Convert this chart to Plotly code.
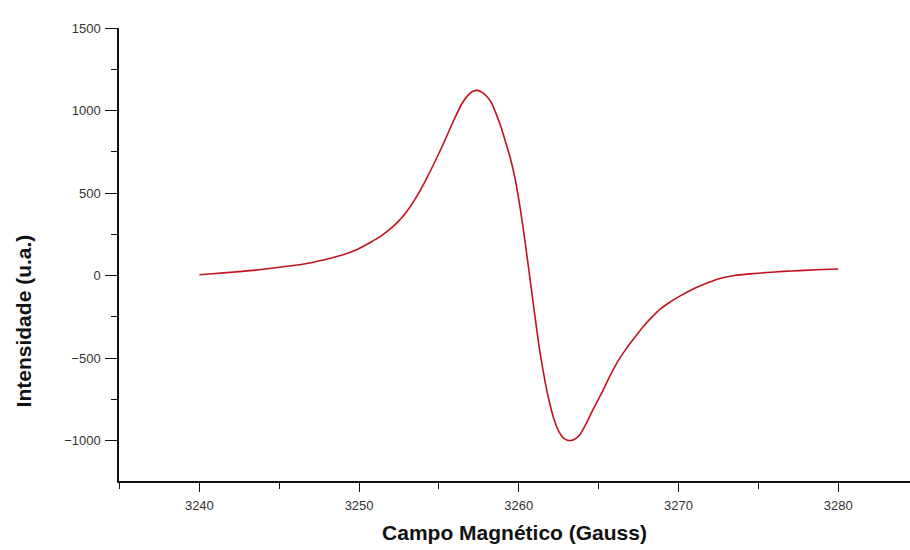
import plotly.graph_objects as go

# Magnetic field (Gauss)
campo = [3240, 3241, 3242, 3243, 3244, 3245, 3246, 3247, 3248, 3249,
         3249.8, 3250.5, 3251.2, 3251.8, 3252.4, 3253.0, 3253.6, 3254.2, 3254.8, 3255.4,
         3255.9, 3256.4, 3256.8, 3257.1, 3257.42, 3257.7, 3258.0, 3258.3, 3258.6, 3258.9,
         3259.2, 3259.5, 3259.8, 3260.1, 3260.4, 3260.7, 3261.0, 3261.3, 3261.6, 3261.9,
         3262.2, 3262.5, 3262.8, 3263.0, 3263.24, 3263.5, 3263.82, 3264.2, 3264.66, 3265.2,
         3265.7, 3266.2, 3266.75, 3267.3, 3267.78, 3268.3, 3268.83, 3269.4, 3270.08, 3270.7,
         3271.33, 3272.0, 3272.58, 3273.5, 3274.46, 3275.5, 3276.55, 3277.6, 3278.63, 3280]

# EPR derivative intensity (a.u.)
intensidade = [5, 12, 20, 28, 38, 50, 62, 78, 100, 126,
               155, 190, 228, 270, 322, 390, 478, 583, 700, 825,
               935, 1035, 1090, 1115, 1122, 1110, 1085, 1045, 975, 895,
               800, 700, 570, 400, 200, -20, -240, -450, -620, -760,
               -870, -945, -985, -996, -1000, -992, -965, -900, -810, -710,
               -610, -520, -440, -370, -310, -255, -205, -165, -125, -92,
               -64, -38, -18, 0, 10, 18, 25, 30, 35, 40]

x_ticks = [3240, 3250, 3260, 3270, 3280]
y_ticks = [-1000, -500, 0, 500, 1000, 1500]

fig = go.Figure()
fig.add_trace(go.Scatter(
    x=campo, y=intensidade, mode="lines",
    line=dict(color="#c0141c", width=1.6, shape="spline", smoothing=0.5),
    showlegend=False,
))

tick_font = dict(family="Liberation Sans, Arial, sans-serif", size=13, color="#333333")
title_font = dict(family="Liberation Sans, Arial, sans-serif", size=21, color="#111111")

fig.update_layout(
    width=910, height=550,
    margin=dict(l=119, r=0, t=28, b=69),
    plot_bgcolor="white", paper_bgcolor="white",
    xaxis=dict(
        range=[3234.97, 3284.49],
        tickvals=x_ticks,
        showline=True, linecolor="#111111", linewidth=1.5,
        ticks="outside", ticklen=9, tickwidth=1.3, tickcolor="#111111",
        minor=dict(dtick=5, tick0=3235, ticks="outside", ticklen=6, tickwidth=1.3, tickcolor="#111111"),
        showgrid=False, zeroline=False,
        tickfont=tick_font,
        ticklabelstandoff=3,
        title=dict(text="<b>Campo Magnético (Gauss)</b>", font=title_font, standoff=13),
    ),
    yaxis=dict(
        range=[-1245, 1500],
        tickvals=y_ticks,
        showline=True, linecolor="#111111", linewidth=1.5,
        ticks="outside", ticklen=12, tickwidth=1.3, tickcolor="#111111",
        minor=dict(dtick=250, tick0=0, ticks="outside", ticklen=6, tickwidth=1.3, tickcolor="#111111"),
        showgrid=False, zeroline=False,
        tickfont=tick_font,
        ticklabelstandoff=2,
    ),
    annotations=[dict(
        text="<b>Intensidade (u.a.)</b>", textangle=-90,
        xref="paper", yref="paper", x=-0.121, y=0.353,
        xanchor="center", yanchor="middle", showarrow=False,
        font=title_font,
    )],
)

fig.write_html("out.html")
